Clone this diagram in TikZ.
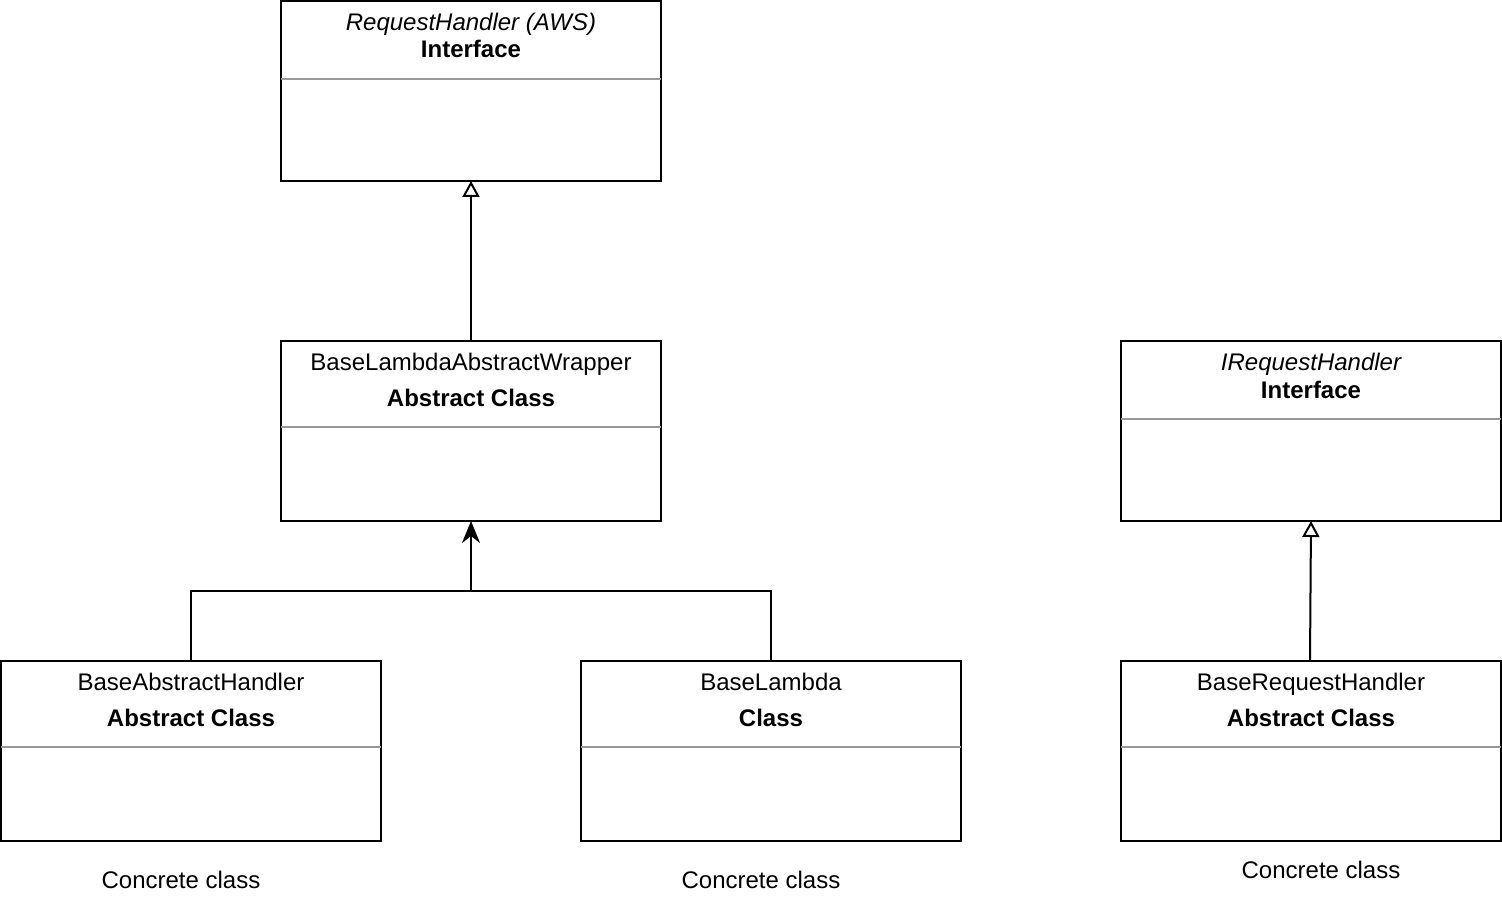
\documentclass[tikz,border=0pt]{standalone}
\usepackage{fontspec}
\setmainfont{Liberation Sans}
\usetikzlibrary{arrows.meta}
\begin{document}
\begin{tikzpicture}[x=1pt,y=-1pt,
  every node/.style={font=\fontsize{24}{29}\selectfont},
  umlbox/.style={draw=black, line width=2pt, minimum width=380pt, minimum height=180pt,
    anchor=north west, inner sep=0pt, outer sep=0pt},
  divider/.style={draw=black!40, line width=2pt},
  title/.style={anchor=base, inner sep=0pt},
  link/.style={draw=black, line width=2pt},
  realize/.style={link, -{Triangle[open, length=16pt, width=17pt, line width=2pt]}},
  extend/.style={link, -{Stealth[length=22pt, width=18pt, inset=7pt]}}]
\useasboundingbox (0,0) rectangle (1502,912);

% class boxes
\node[umlbox] (rh)   at (281,1)    {};
\node[umlbox] (wrap) at (281,341)  {};
\node[umlbox] (irh)  at (1121,341) {};
\node[umlbox] (bah)  at (1,661)    {};
\node[umlbox] (bl)   at (581,661)  {};
\node[umlbox] (brh)  at (1121,661) {};

% compartment dividers
\draw[divider] (281,79) -- (661,79);
\draw[divider] (281,427) -- (661,427);
\draw[divider] (1121,419) -- (1501,419);
\draw[divider] (1,747) -- (381,747);
\draw[divider] (581,747) -- (961,747);
\draw[divider] (1121,747) -- (1501,747);

% class titles
\node[title] (rh1) at (471,31) {\itshape RequestHandler (AWS)};
\node[title] (rh2) at (471,58) {\bfseries Interface};
\node[title] (w1) at (471,370) {BaseLambdaAbstractWrapper};
\node[title] (w2) at (471,406) {\bfseries Abstract Class};
\node[title] (i1) at (1311,370) {\itshape IRequestHandler};
\node[title] (i2) at (1311,398) {\bfseries Interface};
\node[title] (a1) at (191,690) {BaseAbstractHandler};
\node[title] (a2) at (191,726) {\bfseries Abstract Class};
\node[title] (l1) at (771,690) {BaseLambda};
\node[title] (l2) at (771,726) {\bfseries Class};
\node[title] (r1) at (1311,690) {BaseRequestHandler};
\node[title] (r2) at (1311,726) {\bfseries Abstract Class};

% notes under the classes
\node[title] (c1) at (181,888) {Concrete class};
\node[title] (c2) at (761,888) {Concrete class};
\node[title] (c3) at (1321,878) {Concrete class};

% relations
\draw[realize] (wrap.north) -- (rh.south);
\draw[extend] (bah.north) |- (471,591) -- (wrap.south);
\draw[link] (bl.north) |- (471,591);
\draw[realize] (1310,661) -- (1311,521);
\end{tikzpicture}
\end{document}
